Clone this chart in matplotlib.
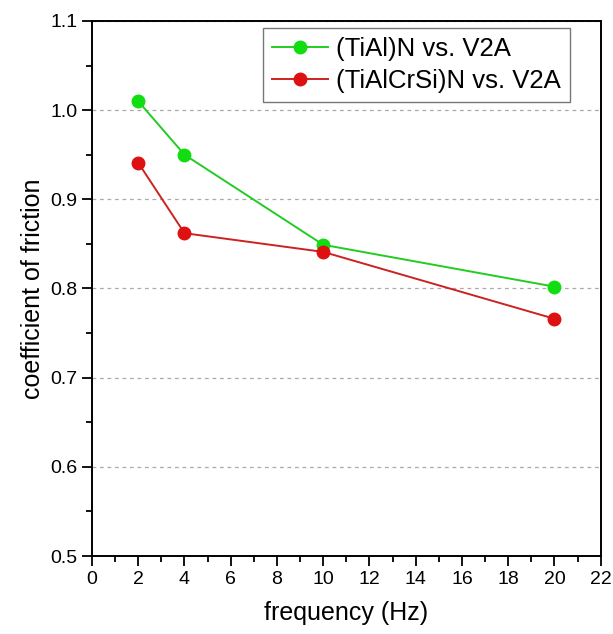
import matplotlib
matplotlib.use('Agg')
import matplotlib.pyplot as plt
from matplotlib.ticker import MultipleLocator

plt.rcParams['font.family'] = ['Liberation Sans', 'DejaVu Sans']

frequency = [2, 4, 10, 20]
cof_tialn = [1.010, 0.950, 0.849, 0.802]
cof_tialcrsin = [0.941, 0.862, 0.841, 0.766]
labels = ['(TiAl)N vs. V2A', '(TiAlCrSi)N vs. V2A']

fig = plt.figure(figsize=(6.13, 6.34), dpi=100)
ax = fig.add_axes([0.150, 0.123, 0.830, 0.844])

ax.plot(frequency, cof_tialn, '-o', color='#22cc22', markerfacecolor='#11dd11',
        markeredgecolor='#11dd11', markersize=9, lw=1.4, label=labels[0])
ax.plot(frequency, cof_tialcrsin, '-o', color='#cc2222', markerfacecolor='#dd1111',
        markeredgecolor='#dd1111', markersize=9, lw=1.4, label=labels[1])

ax.set_xlim(0, 22)
ax.set_ylim(0.5, 1.1)
ax.xaxis.set_major_locator(MultipleLocator(2))
ax.xaxis.set_minor_locator(MultipleLocator(1))
ax.yaxis.set_major_locator(MultipleLocator(0.1))
ax.yaxis.set_minor_locator(MultipleLocator(0.05))
ax.yaxis.set_major_formatter(plt.FormatStrFormatter('%.1f'))

ax.tick_params(which='both', direction='out', top=False, right=False, width=1.3, labelsize=14)
ax.tick_params(which='major', length=7)
ax.tick_params(which='minor', length=4)
for s in ax.spines.values():
    s.set_linewidth(1.4)

ax.grid(axis='y', which='major', linestyle=(0, (3, 3)), color='#aaaaaa', lw=0.9)
ax.set_axisbelow(True)

ax.set_xlabel('frequency (Hz)', fontsize=18, labelpad=10)
ax.set_ylabel('coefficient of friction', fontsize=18, labelpad=4)

leg = ax.legend(loc='upper right', bbox_to_anchor=(0.939, 0.987), fontsize=18.5,
                fancybox=False, edgecolor='#555555', borderaxespad=0,
                handlelength=2.2, borderpad=0.35, labelspacing=0.3, handletextpad=0.3)
leg.get_frame().set_linewidth(1.0)

fig.savefig('out.png', dpi=100)
